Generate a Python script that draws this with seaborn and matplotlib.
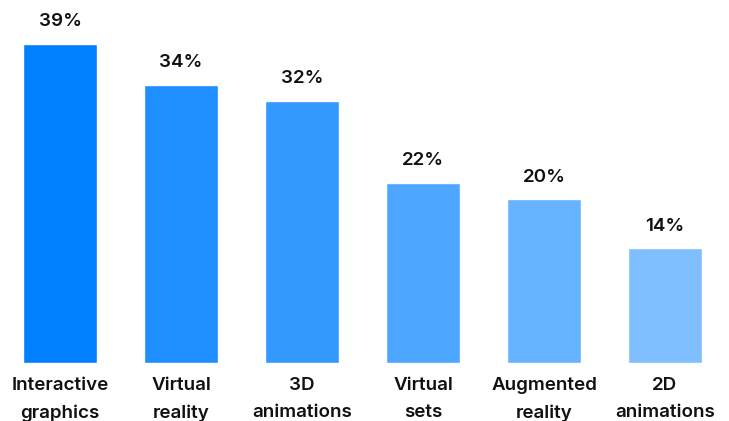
import matplotlib
matplotlib.use("Agg")
import matplotlib.pyplot as plt
import pandas as pd
import seaborn as sns

categories = ["Interactive\ngraphics", "Virtual\nreality", "3D\nanimations",
              "Virtual\nsets", "Augmented\nreality", "2D\nanimations"]
shares = [39, 34, 32, 22, 20, 14]
bar_colors = ["#0080FF", "#1F8FFF", "#3399FF", "#4DA6FF", "#66B3FF", "#80BFFF"]

sns.set_style("white")
plt.rcParams["font.family"] = ["Inter", "DejaVu Sans"]

df = pd.DataFrame({"category": categories, "share": shares})

fig = plt.figure(figsize=(7.29, 4.21), dpi=100)
ax = fig.add_axes([0, 58 / 421, 1, 363 / 421])

sns.barplot(data=df, x="category", y="share", hue="category",
            palette=bar_colors, legend=False, width=0.61, ax=ax,
            saturation=1)

for cont in ax.containers:
    ax.bar_label(cont, labels=[f"{v:.0f}%" for v in cont.datavalues],
                 padding=10, fontsize=13.5, fontweight="semibold", color="#111111")

ax.set_xlim(-60 / 121, (729 - 60) / 121)
ax.set_ylim(0, 363 / 8.18)
ax.set_xlabel("")
ax.set_ylabel("")
ax.set_yticks([])
ax.tick_params(axis="x", length=0, pad=10)
for lbl in ax.get_xticklabels():
    lbl.set_fontsize(13.5)
    lbl.set_fontweight("semibold")
    lbl.set_color("#111111")
    lbl.set_linespacing(1.75)
sns.despine(ax=ax, left=True, bottom=True)

fig.savefig("out.png", dpi=100)
